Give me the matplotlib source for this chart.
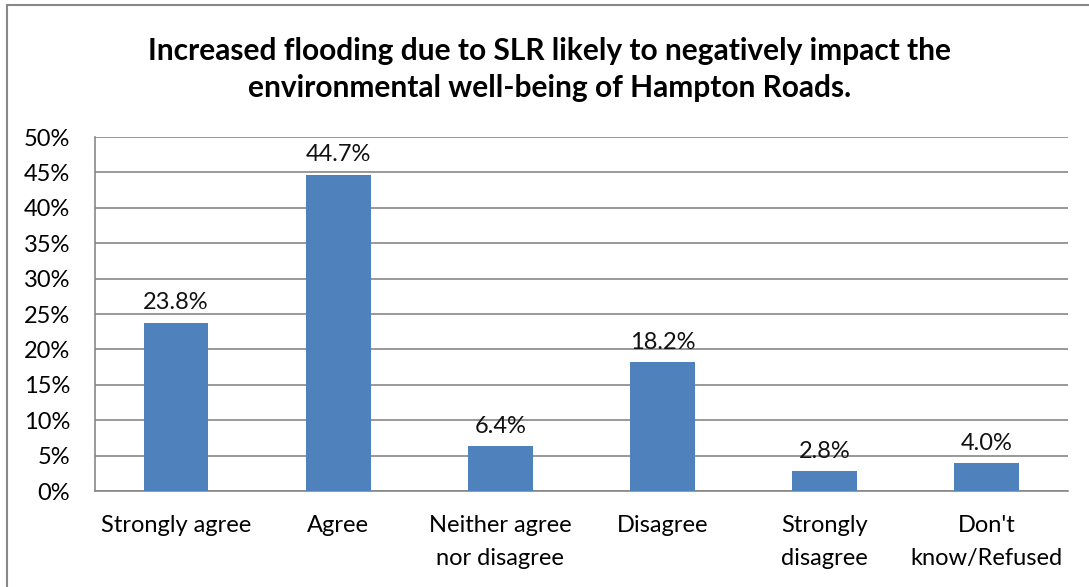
import matplotlib.pyplot as plt
from matplotlib.patches import Rectangle

# data
categories = ["Strongly agree", "Agree", "Neither agree\nnor disagree",
              "Disagree", "Strongly\ndisagree", "Don't\nknow/Refused"]
values = [23.8, 44.7, 6.4, 18.2, 2.8, 4.0]
y_ticks = [0, 5, 10, 15, 20, 25, 30, 35, 40, 45, 50]
title = ("Increased flooding due to SLR likely to negatively impact the\n"
         "environmental well-being of Hampton Roads.")

plt.rcParams['font.family'] = ['Lato', 'DejaVu Sans']

fig = plt.figure(figsize=(10.89, 5.87), dpi=100)
ax = fig.add_axes([0.0872, 0.1635, 0.8935, 0.603])

x = range(len(categories))
bars = ax.bar(x, values, width=0.40, color="#4F81BD", zorder=3)

for b, v in zip(bars, values):
    ax.text(b.get_x() + b.get_width() / 2, v + 1.3, f"{v:.1f}%",
            ha="center", va="bottom", fontsize=17, color="#111111")

ax.set_xlim(-0.5, len(categories) - 0.5)
ax.set_ylim(0, 50)
ax.set_yticks(y_ticks)
ax.set_yticklabels([f"{t}%" for t in y_ticks], fontsize=17)
ax.set_xticks(list(x))
ax.set_xticklabels(categories, fontsize=17, linespacing=1.75)
ax.tick_params(axis="y", length=0, pad=18)
ax.tick_params(axis="x", length=0, pad=17)

ax.grid(axis="y", color="#888888", linewidth=1.2, zorder=0)
for side in ["top", "right"]:
    ax.spines[side].set_visible(False)
for side in ["left", "bottom"]:
    ax.spines[side].set_color("#888888")
    ax.spines[side].set_linewidth(1.2)

fig.text(0.505, 0.882, title, ha="center", va="center", fontsize=21.5,
         fontweight="bold", linespacing=1.4)

# chart frame (runs off the right and bottom edges like the source)
fig.patches.append(Rectangle((7 / 1089, -0.05), 1.1, 1 - 5 / 587 + 0.05,
                             transform=fig.transFigure, fill=False,
                             edgecolor="#888888", linewidth=1.5))

fig.savefig("out.png", dpi=100)
